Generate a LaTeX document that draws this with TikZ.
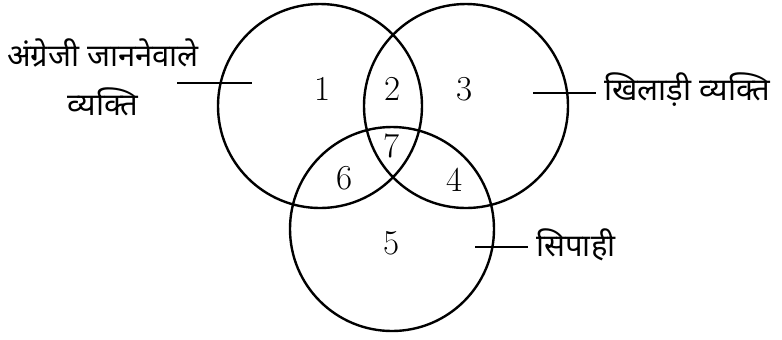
\documentclass[tikz,border=0pt]{standalone}
\usepackage{fontspec}
\newfontfamily\devfont[Script=Devanagari]{Noto Sans}
\usepackage{tikz}
\usetikzlibrary{positioning}

\begin{document}
\begin{tikzpicture}[
  x=0.5pt, y=-0.5pt,
  setcircle/.style={draw=black, line width=1.2pt, circle, inner sep=0pt,
                    minimum size=102pt},
  num/.style={font=\fontsize{17.5}{20}\selectfont, inner sep=0pt},
  setlabel/.style={font=\devfont\fontsize{15.5}{24.5}\selectfont,
                   align=center, inner sep=4pt},
  leader/.style={draw=black, line width=0.9pt},
]
\useasboundingbox (0,0) rectangle (782,339);

%% ── Sets ─────────────────────────────────────────────────────────────────────
\node[setcircle] (cEng)   at (320,106) {};
\node[setcircle] (cSport) at (466,106) {};
\node[setcircle] (cSol)   at (392,229) {};

%% ── Region numbers ───────────────────────────────────────────────────────────
\node[num] (n1) at (323, 89) {1};
\node[num] (n2) at (393, 89) {2};
\node[num] (n3) at (465, 89) {3};
\node[num] (n7) at (392,146) {7};
\node[num] (n6) at (345,178) {6};
\node[num] (n4) at (455,180) {4};
\node[num] (n5) at (392,243) {5};

%% ── Set labels ───────────────────────────────────────────────────────────────
\node[setlabel] (lblEng) at (103,77) {अंग्रेजी जाननेवाले\\व्यक्ति};
\node[setlabel, anchor=west] (lblSport) at (596,90) {खिलाड़ी व्यक्ति};
\node[setlabel, anchor=west] (lblSol)   at (528,245) {सिपाही};

%% ── Leader lines ─────────────────────────────────────────────────────────────
\coordinate (lEngOut) at (177,83);
\coordinate (lEngIn)  at (252,83);
\coordinate (lSportIn) at (533,93);
\coordinate (lSolIn)   at (475,247);

\draw[leader] (lEngOut) -- (lEngIn);
\draw[leader] (lSportIn) -- (lblSport.west |- lSportIn);
\draw[leader] (lSolIn) -- (lblSol.west |- lSolIn);

\end{tikzpicture}
\end{document}
